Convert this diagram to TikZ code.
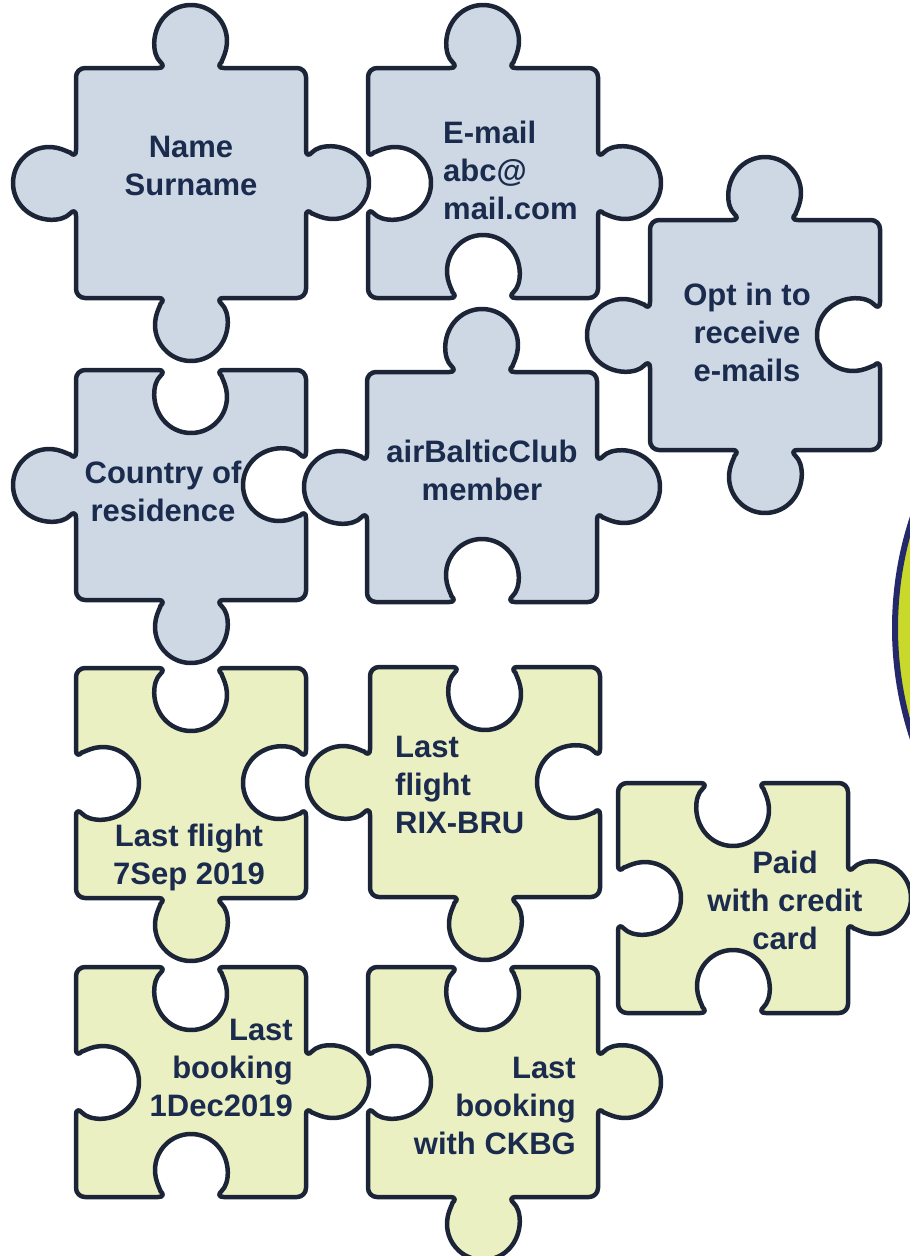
\documentclass[tikz,border=0pt]{standalone}
\usepackage{fontspec}
\setmainfont{Liberation Sans}
\definecolor{ink}{HTML}{1A2B4E}
\definecolor{rim}{HTML}{1C2538}
\definecolor{greyfill}{HTML}{CDD8E4}
\definecolor{yellowfill}{HTML}{EBF0C3}
\definecolor{lime}{HTML}{C9D92C}
\definecolor{navy}{HTML}{24296B}

% x, y, top, right, bottom, left (1 = knob out, -1 = hole), fill
\newcommand\puzzle[7]{%
 \draw[piece,fill=#7] (#1,#2)
  -- ({#1+91.2},#2) arc[start angle={180-(#3)*48.6},end angle={180+(#3)*228.6},radius=36]
  -- ({#1+230},#2)
  -- ({#1+230},{#2+91.2}) arc[start angle={270-(#4)*48.6},end angle={270+(#4)*228.6},radius=36]
  -- ({#1+230},{#2+230})
  -- ({#1+138.8},{#2+230}) arc[start angle={360-(#5)*48.6},end angle={360+(#5)*228.6},radius=36]
  -- (#1,{#2+230})
  -- (#1,{#2+138.8}) arc[start angle={450-(#6)*48.6},end angle={450+(#6)*228.6},radius=36]
  -- cycle;}

\begin{document}
\begin{tikzpicture}[x=1pt,y=-1pt,
 piece/.style={draw=rim,line width=4.5pt,rounded corners=9pt,line join=round},
 words/.style={font=\bfseries\fontsize{31}{38}\selectfont,text=ink,inner sep=0pt}]
\useasboundingbox (0,0) rectangle (910,1256);
\clip (0,0) rectangle (910,1256);
\draw[fill=lime,draw=navy,line width=6pt] (1246,628) circle[radius=351];
\foreach \x/\y/\t/\r/\b/\l/\c in {76/68/1/1/1/1/greyfill,368/68/1/1/-1/-1/greyfill,
 650/220/1/-1/1/1/greyfill,76/370/-1/-1/1/1/greyfill,367/372/1/1/-1/1/greyfill,
 76/668/-1/-1/1/-1/yellowfill,370/667/-1/-1/1/1/yellowfill,618/783/-1/1/-1/-1/yellowfill,
 76/967/-1/1/-1/-1/yellowfill,368/967/-1/1/1/-1/yellowfill}
 \puzzle{\x}{\y}{\t}{\r}{\b}{\l}{\c};
\node[words,align=center] (name) at (191,166) {Name\\Surname};
\node[words,align=left,anchor=west] (email) at (443,170) {E-mail\\abc@\\mail.com};
\node[words,align=center] (optin) at (747,332) {Opt in to\\receive\\e-mails};
\node[words,align=center] (country) at (163,491) {Country of\\residence};
\node[words,align=center] (club) at (482,470) {airBalticClub\\member};
\node[words,align=center] (lastdate) at (189,857) {Last flight\\7Sep 2019};
\node[words,align=left,anchor=west] (route) at (395,785) {Last\\flight\\RIX-BRU};
\node[words,align=center] (card) at (785,900) {Paid\\with credit\\card};
\node[words,align=right,anchor=east] (bookdate) at (293,1068) {Last\\booking\\1Dec2019};
\node[words,align=right,anchor=east] (agent) at (576,1106) {Last\\booking\\with CKBG};
\end{tikzpicture}
\end{document}
